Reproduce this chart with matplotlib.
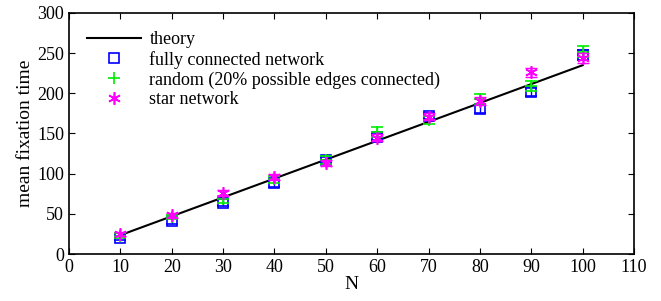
import matplotlib
matplotlib.use('Agg')
import matplotlib.pyplot as plt
from matplotlib.lines import Line2D

plt.rcParams['font.family'] = ['Liberation Serif', 'DejaVu Serif']

# theory line (two end points)
theory_n = [10, 100]
theory_t = [23.5, 235]

n_values = [10, 20, 30, 40, 50, 60, 70, 80, 90, 100]

full_mean = [20, 41, 64, 88, 117, 146, 172, 181, 202, 248]
full_err = [3, 4, 4, 4, 4, 4, 4, 5, 5, 6]

random_mean = [23, 46, 68, 93, 117, 152, 167, 193, 209, 252]
random_err = [3, 3, 4, 4, 5, 6, 5, 6, 6, 7]

star_mean = [25, 48, 76, 96, 113, 145, 171, 190, 226, 244]
star_err = [3, 3, 4, 4, 4, 4, 4, 5, 6, 6]

labels = ['theory', 'fully connected network',
          'random (20% possible edges connected)', 'star network']

x_ticks = list(range(0, 111, 10))
y_ticks = list(range(0, 301, 50))

green = '#00ee00'
star_marker = (6, 2, 0)

fig = plt.figure(figsize=(6.61, 3.01), dpi=100)
ax = fig.add_axes([0.1044, 0.156, 0.8548, 0.801])

ax.plot(theory_n, theory_t, color='black', lw=1.5, zorder=1)

ax.errorbar(n_values, full_mean, yerr=full_err, fmt='s', color='blue',
            mfc='none', mec='blue', ms=7, mew=1.2, elinewidth=1, capsize=4, zorder=2)
ax.errorbar(n_values, random_mean, yerr=random_err, fmt='+', color=green,
            ms=9, mew=1.2, elinewidth=1, capsize=4, zorder=3)
ax.errorbar(n_values, star_mean, yerr=star_err, fmt='none', color='magenta',
            elinewidth=1, capsize=4, zorder=4)
ax.plot(n_values, star_mean, ls='none', marker=star_marker, color='magenta',
        ms=9, mew=1.2, zorder=5)

ax.set_xlim(0, 110)
ax.set_ylim(0, 300)
ax.set_xticks(x_ticks)
ax.set_yticks(y_ticks)
ax.tick_params(direction='in', top=True, right=True, labelsize=13, length=4, width=0.8)
for sp in ax.spines.values():
    sp.set_linewidth(1.2)

ax.set_xlabel('N', fontsize=14, labelpad=0)
ax.set_ylabel('mean fixation time', fontsize=14, labelpad=2)

handles = [
    Line2D([], [], color='black', lw=1.5),
    Line2D([], [], ls='none', marker='s', mfc='none', mec='blue', ms=7, mew=1.2),
    Line2D([], [], ls='none', marker='+', color=green, ms=9, mew=1.2),
    Line2D([], [], ls='none', marker=star_marker, color='magenta', ms=9, mew=1.2),
]
ax.legend(handles, labels, loc='upper left', frameon=False, fontsize=13,
          handlelength=3.0, handletextpad=0.45, labelspacing=0.15,
          borderaxespad=0.7, borderpad=0.3)

fig.savefig('out.png', dpi=100)
